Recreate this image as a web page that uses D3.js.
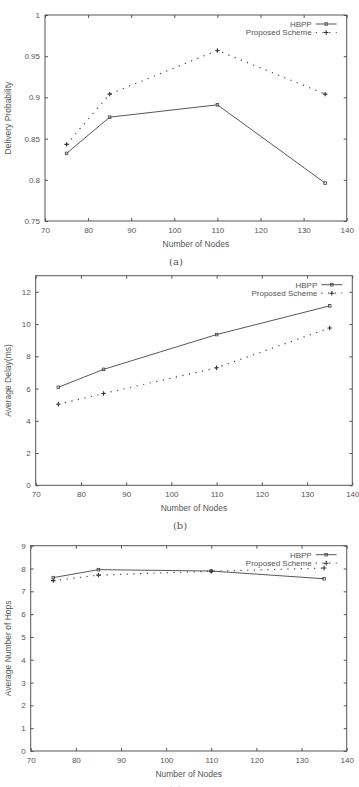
<!DOCTYPE html>
<html><head><meta charset="utf-8">
<script src="https://cdn.jsdelivr.net/npm/d3@7"></script>
<style>
html,body{margin:0;padding:0;background:#fff;}
svg{display:block;}
text{font-family:"Liberation Sans",Arial,Helvetica,sans-serif;fill:#555;}
</style></head>
<body>
<svg id="c" width="359" height="787"></svg>
<script>
const nodes = [75, 85, 110, 135];
const seriesNames = ["HBPP", "Proposed Scheme"];
const xTicks = [70, 80, 90, 100, 110, 120, 130, 140];

const deliveryHBPP = [0.832, 0.876, 0.891, 0.796];
const deliveryProposed = [0.843, 0.904, 0.957, 0.904];
const deliveryTicks = [0.75, 0.8, 0.85, 0.9, 0.95, 1];
const deliveryTickLabels = ["0.75", "0.8", "0.85", "0.9", "0.95", "1"];

const delayHBPP = [6.08, 7.19, 9.35, 11.13];
const delayProposed = [5.03, 5.69, 7.29, 9.76];
const delayTicks = [0, 2, 4, 6, 8, 10, 12];
const delayTickLabels = ["0", "2", "4", "6", "8", "10", "12"];

const hopsHBPP = [7.60, 7.95, 7.89, 7.55];
const hopsProposed = [7.47, 7.71, 7.88, 8.02];
const hopsTicks = [0, 1, 2, 3, 4, 5, 6, 7, 8, 9];
const hopsTickLabels = ["0", "1", "2", "3", "4", "5", "6", "7", "8", "9"];

const xTitle = "Number of Nodes";
const captions = ["(a)", "(b)", "(c)"];

const svg = d3.select("#c");
const lineCol = "#444";

function drawChart(o) {
  const g = svg.append("g");
  const x = d3.scaleLinear().domain([70, 140]).range([o.left, o.right]);
  const y = d3.scaleLinear().domain(o.yDomain).range([o.bottom, o.top]);

  const styleAxis = sel => {
    sel.select(".domain").remove();
    sel.selectAll(".tick line").attr("stroke", "#555");
    sel.selectAll(".tick text").attr("font-size", 8).attr("fill", "#555")
      .style("font-family", '"Liberation Sans",Arial,sans-serif');
  };
  g.append("g").attr("transform", `translate(0,${o.bottom})`)
    .call(d3.axisBottom(x).tickValues(xTicks).tickSize(-3).tickPadding(6).tickFormat(d3.format("d")))
    .call(styleAxis);
  g.append("g").attr("transform", `translate(0,${o.top})`)
    .call(d3.axisTop(x).tickValues(xTicks).tickSize(-3).tickFormat(""))
    .call(styleAxis);
  g.append("g").attr("transform", `translate(${o.left},0)`)
    .call(d3.axisLeft(y).tickValues(o.yTicks).tickSize(-3).tickPadding(5)
      .tickFormat((d, i) => o.yTickLabels[i]))
    .call(styleAxis);
  g.append("g").attr("transform", `translate(${o.right},0)`)
    .call(d3.axisRight(y).tickValues(o.yTicks).tickSize(-3).tickFormat(""))
    .call(styleAxis);

  g.append("rect").attr("x", o.left).attr("y", o.top)
    .attr("width", o.right - o.left).attr("height", o.bottom - o.top)
    .attr("fill", "none").attr("stroke", "#555").attr("stroke-width", 1);

  const line = d3.line().x((d, i) => x(nodes[i])).y(d => y(d));

  g.append("path").datum(o.s1).attr("d", line)
    .attr("fill", "none").attr("stroke", lineCol).attr("stroke-width", 0.9);
  g.append("path").datum(o.s2).attr("d", line)
    .attr("fill", "none").attr("stroke", lineCol).attr("stroke-width", 1.2)
    .attr("stroke-dasharray", "1.2,5.5");

  const sq = (gg, cx, cy) => gg.append("rect").attr("x", cx - 1.3).attr("y", cy - 1.3)
    .attr("width", 2.6).attr("height", 2.6).attr("fill", "none").attr("stroke", lineCol).attr("stroke-width", 0.8);
  const plus = (gg, cx, cy) => gg.append("path")
    .attr("d", `M${cx - 2.2},${cy}H${cx + 2.2}M${cx},${cy - 2.2}V${cy + 2.2}`)
    .attr("stroke", "#333").attr("stroke-width", 1.1);

  o.s1.forEach((d, i) => sq(g, x(nodes[i]), y(d)));
  o.s2.forEach((d, i) => plus(g, x(nodes[i]), y(d)));

  const lx1 = o.right - 31, lx2 = o.right - 10, tx = o.right - 35;
  g.append("text").attr("x", tx).attr("y", o.top + 9).attr("dy", "0.35em")
    .attr("text-anchor", "end").attr("font-size", 8).text(seriesNames[0]);
  g.append("line").attr("x1", lx1).attr("x2", lx2).attr("y1", o.top + 9).attr("y2", o.top + 9)
    .attr("stroke", lineCol).attr("stroke-width", 0.9);
  sq(g, (lx1 + lx2) / 2, o.top + 9);
  g.append("text").attr("x", tx).attr("y", o.top + 17.5).attr("dy", "0.35em")
    .attr("text-anchor", "end").attr("font-size", 8).text(seriesNames[1]);
  g.append("line").attr("x1", lx1).attr("x2", lx2).attr("y1", o.top + 17.5).attr("y2", o.top + 17.5)
    .attr("stroke", lineCol).attr("stroke-width", 1.2).attr("stroke-dasharray", "1.2,5.5");
  plus(g, (lx1 + lx2) / 2, o.top + 17.5);

  g.append("text").attr("x", (o.left + o.right) / 2).attr("y", o.bottom + 23).attr("dy", "0.35em")
    .attr("text-anchor", "middle").attr("font-size", 8.5).text(xTitle);
  g.append("text").attr("transform", `translate(8,${(o.top + o.bottom) / 2}) rotate(-90)`)
    .attr("dy", "0.35em").attr("text-anchor", "middle").attr("font-size", 8.5).text(o.yTitle);
  g.append("text").attr("x", o.capX).attr("y", o.capY).attr("dy", "0.35em")
    .attr("text-anchor", "middle").attr("font-size", 10)
    .style("font-family", '"DejaVu Serif","Liberation Serif",serif').attr("fill", "#222").text(o.caption);
}

drawChart({left: 45, right: 346.7, top: 15, bottom: 221, yDomain: [0.75, 1],
  yTicks: deliveryTicks, yTickLabels: deliveryTickLabels, s1: deliveryHBPP, s2: deliveryProposed,
  yTitle: "Delivery Probability", caption: captions[0], capX: 176, capY: 261});
drawChart({left: 35.7, right: 352.3, top: 275.7, bottom: 485.3, yDomain: [0, 13],
  yTicks: delayTicks, yTickLabels: delayTickLabels, s1: delayHBPP, s2: delayProposed,
  yTitle: "Average Delay(ms)", caption: captions[1], capX: 180, capY: 525.5});
drawChart({left: 30.7, right: 346.7, top: 545.7, bottom: 751, yDomain: [0, 9],
  yTicks: hopsTicks, yTickLabels: hopsTickLabels, s1: hopsHBPP, s2: hopsProposed,
  yTitle: "Average Number of Hops", caption: captions[2], capX: 175, capY: 789});
</script>
</body></html>
